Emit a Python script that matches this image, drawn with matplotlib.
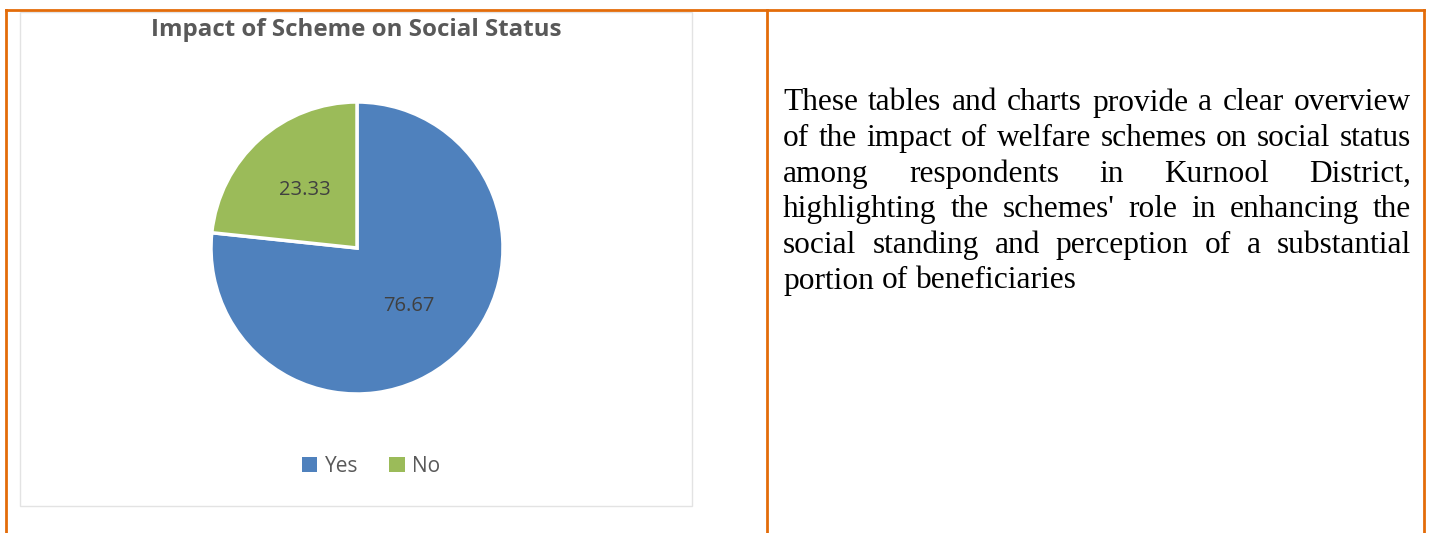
import matplotlib.pyplot as plt
from matplotlib.patches import Rectangle, Patch
from matplotlib.lines import Line2D

# data
categories = ['Yes', 'No']
values = [76.67, 23.33]
colors = ['#4F81BD', '#9BBB59']
title = 'Impact of Scheme on Social Status'
paragraph = [
    "These tables and charts provide a clear overview",
    "of the impact of welfare schemes on social status",
    "among respondents in Kurnool District,",
    "highlighting the schemes' role in enhancing the",
    "social standing and perception of a substantial",
    "portion of beneficiaries",
]

W, H = 1430, 533
fig = plt.figure(figsize=(W / 100, H / 100), dpi=100)


def px(x, y):
    # pixel coords (top-left origin) -> figure fraction
    return x / W, 1 - y / H


# table borders (orange)
orange = '#E36C0A'
for (x0, y0, x1, y1) in [(6, 10, 1424, 10), (6, 10, 6, 533), (767, 10, 767, 533), (1424, 10, 1424, 533)]:
    a, b = px(x0, y0)
    c, d = px(x1, y1)
    fig.add_artist(Line2D([a, c], [b, d], color=orange, lw=2.0, transform=fig.transFigure))

# chart frame (light grey)
fx, fy = px(20, 506)
fig.add_artist(Rectangle((fx, fy), (692 - 20) / W, (506 - 12) / H, transform=fig.transFigure,
                         fill=False, edgecolor='#E3E3E3', lw=1.0))

# title
tx, ty = px(356, 30)
fig.text(tx, ty, title, ha='center', va='center', fontsize=17.4, fontweight='bold',
         color='#595959', family='Open Sans')

# pie
cx, cy, r = 357, 248, 146
ax = fig.add_axes([(cx - r) / W, (H - cy - r) / H, 2 * r / W, 2 * r / H])
wedges, texts, autotexts = ax.pie(values, colors=colors, startangle=90, counterclock=False,
                                  autopct=lambda p: f'{p:.2f}', pctdistance=0.53,
                                  wedgeprops=dict(edgecolor='white', linewidth=2.5))
for t in autotexts:
    t.set_color('#404040')
    t.set_fontsize(14.5)
    t.set_family('Open Sans')
ax.set_xlim(-1, 1)
ax.set_ylim(-1, 1)
ax.set_aspect('equal')
ax.axis('off')

# legend
lx, ly = px(371, 466)
handles = [Patch(facecolor=c, edgecolor='none') for c in colors]
fig.legend(handles, categories, loc='center', bbox_to_anchor=(lx, ly), ncol=2, frameon=False,
           prop={'family': 'Open Sans', 'size': 15}, labelcolor='#595959',
           handlelength=0.75, handleheight=0.75, handletextpad=0.35, columnspacing=1.5)

# justified paragraph on the right
left, right = 783, 1411
line_y = [103, 138.6, 174.2, 209.8, 245.4, 281]
fs = 22.6
fig.canvas.draw()
renderer = fig.canvas.get_renderer()
for i, line in enumerate(paragraph):
    words = line.split(' ')
    x0, y0 = px(left, line_y[i])
    arts = [fig.text(0, y0, w, fontsize=fs, family='Liberation Serif', color='black', va='center')
            for w in words]
    widths = [a.get_window_extent(renderer).width for a in arts]
    t1 = fig.text(0, 0, 'a b', fontsize=fs, family='Liberation Serif')
    t2 = fig.text(0, 0, 'ab', fontsize=fs, family='Liberation Serif')
    sw = t1.get_window_extent(renderer).width - t2.get_window_extent(renderer).width
    t1.remove()
    t2.remove()
    if i < len(paragraph) - 1 and len(words) > 1:
        gap = (right - left - sum(widths)) / (len(words) - 1)
    else:
        gap = sw
    x = left
    for a, w in zip(arts, widths):
        a.set_x(x / W)
        x += w + gap

fig.savefig('out.png', dpi=100)
